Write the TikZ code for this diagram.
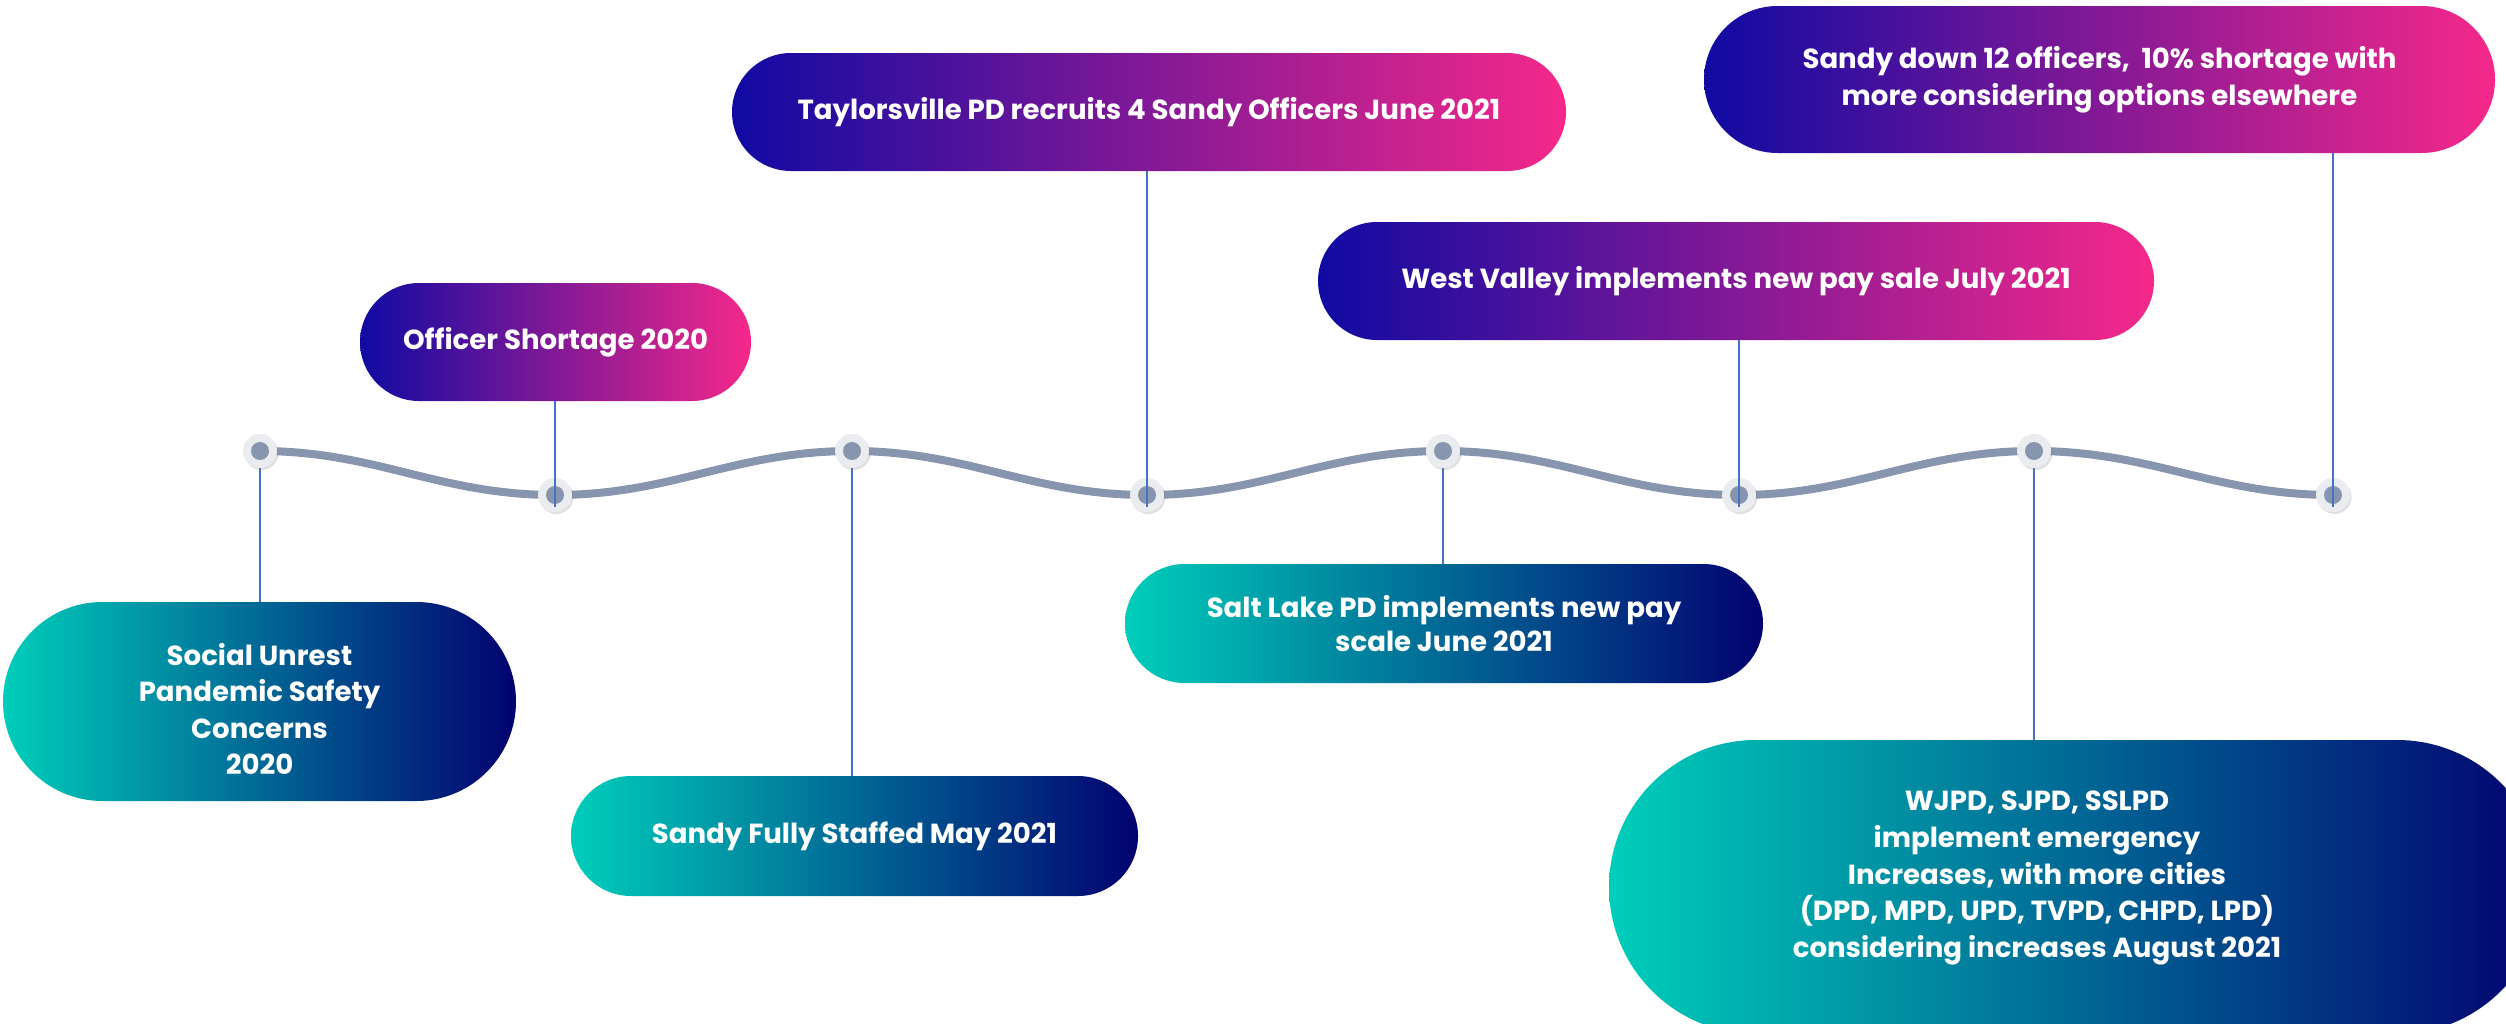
\documentclass[tikz,border=0pt]{standalone}
\usepackage{fontspec}
\setmainfont{Poppins}
\usetikzlibrary{shapes.misc,shadows}

\definecolor{violet}{RGB}{16,10,162}
\definecolor{pink}{RGB}{245,40,138}
\definecolor{teal}{RGB}{0,206,186}
\definecolor{navy}{RGB}{2,2,112}
\definecolor{wavegray}{RGB}{135,149,174}
\definecolor{ringgray}{RGB}{234,236,240}
\definecolor{linkblue}{RGB}{68,114,196}

\begin{document}
\begin{tikzpicture}[x=0.2mm,y=-0.2mm,
	upper/.style={rounded rectangle, left color=violet, right color=pink, text=white, align=center, inner sep=0pt, font=\bfseries\fontsize{15.7}{20.8}\selectfont},
	lower/.style={rounded rectangle, left color=teal, right color=navy, text=white, align=center, inner sep=0pt, font=\bfseries\fontsize{15.7}{20.8}\selectfont},
	boxtext/.style={text=white, align=center, font=\bfseries\fontsize{15.7}{20.8}\selectfont},
	dot/.style={circle, fill=ringgray, minimum size=6.8mm, inner sep=0pt,
		drop shadow={shadow xshift=0.3mm, shadow yshift=-0.4mm, opacity=0.25},
		path picture={\fill[wavegray] (path picture bounding box.center) circle (1.8mm);}},
	wave/.style={wavegray, line width=1.6mm},
	link/.style={linkblue, line width=0.3mm}]

	\useasboundingbox (0,0) rectangle (2506,1023);
	\clip (0,0) rectangle (2506,1023);

	%Boxes above the line
	\node[upper, minimum width=78.2mm, minimum height=23.6mm]	(shortage)	at (555.5,342)	{Officer Shortage 2020};
	\node[upper, minimum width=166.8mm, minimum height=23.6mm]	(recruits)	at (1149,112)	{Taylorsville PD recruits 4 Sandy Officers June 2021};
	\node[upper, minimum width=167.2mm, minimum height=23.6mm]	(westvalley)	at (1736,281)	{West Valley implements new pay sale July 2021};
	\node[upper, minimum width=158.2mm, minimum height=29.4mm]	(sandydown)	at (2099.5,79.5)	{Sandy down 12 officers,\ \ 10\% shortage with\\more considering options elsewhere};

	%Boxes below the line
	\node[lower, minimum width=102.6mm, minimum height=39.8mm]	(unrest)	at (259.5,701.5)	{};
	\node[boxtext]	(unresttext)	at (259.5,709)	{Social Unrest\\Pandemic Safety\\Concerns\\2020};
	\node[lower, minimum width=113.4mm, minimum height=24mm]	(staffed)	at (854.5,836)	{Sandy Fully Staffed May 2021};
	\node[lower, minimum width=127.6mm, minimum height=23.8mm, font=\bfseries\fontsize{15.7}{19.5}\selectfont]	(saltlake)	at (1444,623.5)	{Salt Lake PD implements new pay\\scale June 2021};
	\node[lower, minimum width=187mm, minimum height=58.8mm]	(emergency)	at (2076.5,887)	{};
	\node[boxtext]	(emergencytext)	at (2037,878)	{WJPD, SJPD, SSLPD\\implement emergency\\Increases, with more cities\\(DPD, MPD, UPD, TVPD, CHPD, LPD)\\considering increases August 2021};

	%Connectors under the dots
	\draw[link] (260,451) coordinate (c1) -- (c1 |- unrest.north);
	\draw[link] (852,451) coordinate (c3) -- (c3 |- staffed.north);
	\draw[link] (1443,451) coordinate (c5) -- (c5 |- saltlake.north);
	\draw[link] (2034,451) coordinate (c7) -- (c7 |- emergency.north);

	%Wave and dots
	\draw[wave] (c1) to[out=0,in=180] (555,495) coordinate (c2)
		to[out=0,in=180] (c3)
		to[out=0,in=180] (1147,495) coordinate (c4)
		to[out=0,in=180] (c5)
		to[out=0,in=180] (1739,495) coordinate (c6)
		to[out=0,in=180] (c7)
		to[out=0,in=180] (2333,495) coordinate (c8);
	\foreach \i in {1,...,8}
		\node[dot] (d\i) at (c\i) {};

	%Connectors over the dots
	\draw[link] (shortage.south -| d2) -- ([yshift=-2.4mm]d2.center);
	\draw[link] (recruits.south -| d4) -- ([yshift=-2.4mm]d4.center);
	\draw[link] (westvalley.south -| d6) -- ([yshift=-2.4mm]d6.center);
	\draw[link] (sandydown.south -| d8) -- ([yshift=-2.4mm]d8.center);
\end{tikzpicture}
\end{document}
